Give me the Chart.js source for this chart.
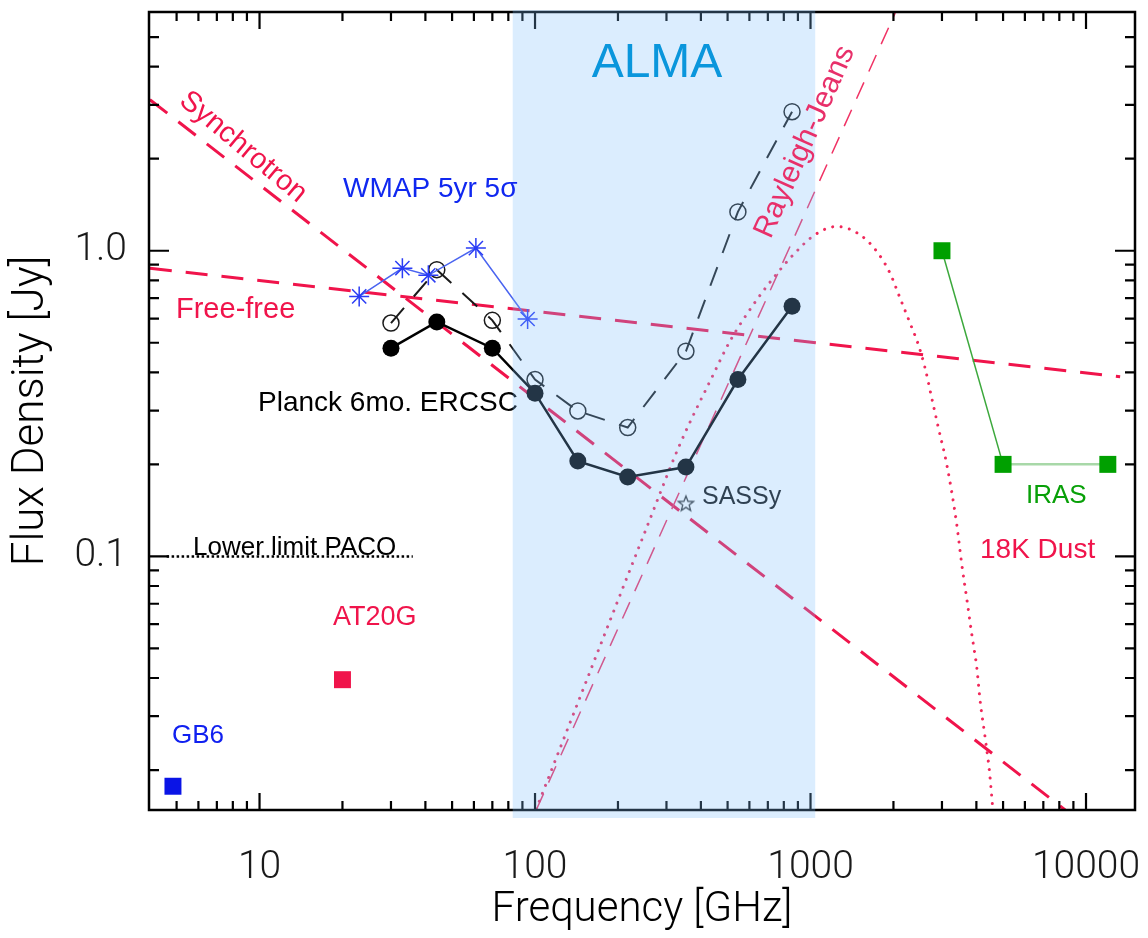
<!DOCTYPE html>
<html><head><meta charset="utf-8">
<script src="https://cdn.jsdelivr.net/npm/chart.js@4/dist/chart.umd.min.js"></script>
<style>html,body{margin:0;padding:0;background:#fff}#wrap{width:1148px;height:938px}</style>
</head><body><div id="wrap"><canvas id="c" width="1148" height="938"></canvas></div>
<script>
// ---- data ----
const planckFreq = [30, 44, 70, 100, 143, 217, 353, 545, 857];
const planckFlux = [0.48, 0.585, 0.48, 0.342, 0.205, 0.182, 0.196, 0.379, 0.658];
const planckOpenFlux = [0.58, 0.867, 0.592, 0.379, 0.299, 0.264, 0.469, 1.34, 2.85];
const wmapFreq = [23, 33, 41, 61, 94];
const wmapFlux = [0.709, 0.877, 0.831, 1.02, 0.598];
const sassyFreq = [353];
const sassyFlux = [0.149];
const at20gFreq = [20];
const at20gFlux = [0.0395];
const gb6Freq = [4.85];
const gb6Flux = [0.0177];
const irasFreq = [3000, 5000, 12000];
const irasFlux = [1.0, 0.2, 0.2];
const pacoFreq = [4.6, 36];
const pacoFlux = [0.1, 0.1];
const synchFreq = [4.0, 8400];
const synchFlux = [3.12, 0.0148];
const freeFreq = [4.0, 13300];
const freeFlux = [0.876, 0.387];
const rjFreq = [101, 2030];
const rjFlux = [0.0148, 6.0];
const dustFreq = [101, 254, 336, 444, 510, 620, 733, 866, 1038, 1245, 1512, 1739, 1943, 2113, 2297, 2462, 2604, 2754, 2910, 3122, 3394, 3538, 3707, 3847, 4012, 4125, 4299, 4457, 4586];
const dustFlux = [0.0149, 0.124, 0.233, 0.394, 0.506, 0.666, 0.814, 0.970, 1.128, 1.200, 1.128, 0.995, 0.845, 0.700, 0.580, 0.493, 0.414, 0.330, 0.264, 0.200, 0.1275, 0.0945, 0.0708, 0.0558, 0.0434, 0.0338, 0.0257, 0.0200, 0.0150];
const almaRange = [83, 1040];
const xTickValues = [10, 100, 1000, 10000];
const xTickLabels = ['10', '100', '1000', '10000'];
const yTickValues = [0.1, 1];
const yTickLabels = ['0.1', '1.0'];
const xRange = [3.97, 15060];
const yRange = [0.0148, 6.04];

const pts = (xs, ys) => xs.map((v, i) => ({x: v, y: ys[i]}));

// small open 5-point star marker
const starImg = document.createElement('canvas');
starImg.width = 20; starImg.height = 20;
(function(){
  const g = starImg.getContext('2d');
  g.strokeStyle = '#333'; g.lineWidth = 1.3;
  g.beginPath();
  for (let i = 0; i < 10; i++) {
    const r = i % 2 === 0 ? 8 : 3.4;
    const a = -Math.PI / 2 + i * Math.PI / 5;
    const px = 10 + r * Math.cos(a), py = 10.5 + r * Math.sin(a);
    if (i === 0) g.moveTo(px, py); else g.lineTo(px, py);
  }
  g.closePath(); g.stroke();
})();

const RED = '#F0144B';
const FONT = '"Liberation Sans", Arial, sans-serif';
const AXFONT = 'Roboto, "Liberation Sans", Arial, sans-serif';

const overlay = {
  id: 'overlay',
  afterDraw(chart) {
    const {ctx, chartArea: a, scales: {x, y}} = chart;
    ctx.save();
    // frame
    ctx.strokeStyle = '#000'; ctx.lineWidth = 2.5;
    ctx.strokeRect(a.left, a.top, a.right - a.left, a.bottom - a.top);
    // inward ticks
    ctx.lineWidth = 2.2;
    ctx.beginPath();
    const minorX = [], minorY = [];
    for (let d = 1; d <= 10000; d *= 10) for (let m = 2; m <= 9; m++) minorX.push(d * m);
    for (let d = 0.01; d <= 1.01; d *= 10) for (let m = 2; m <= 9; m++) minorY.push(d * m);
    const xt = xTickValues.map(v => [v, 17]).concat(minorX.map(v => [v, 9]));
    const yt = yTickValues.map(v => [v, 20]).concat(minorY.map(v => [v, 10]));
    for (const [v, len] of xt) {
      const px = x.getPixelForValue(v);
      if (px < a.left + 2 || px > a.right - 2) continue;
      ctx.moveTo(px, a.bottom); ctx.lineTo(px, a.bottom - len);
      ctx.moveTo(px, a.top); ctx.lineTo(px, a.top + len);
    }
    for (const [v, len] of yt) {
      const py = y.getPixelForValue(v);
      if (py < a.top + 2 || py > a.bottom - 2) continue;
      ctx.moveTo(a.left, py); ctx.lineTo(a.left + len, py);
      ctx.moveTo(a.right, py); ctx.lineTo(a.right - len, py);
    }
    ctx.stroke();

    // labels under the band
    ctx.textBaseline = 'alphabetic'; ctx.textAlign = 'left';
    ctx.fillStyle = '#000'; ctx.font = '28px ' + FONT;
    ctx.fillText('Planck 6mo. ERCSC', 258, 411);
    ctx.fillStyle = '#111'; ctx.font = '25px ' + FONT;
    ctx.fillText('SASSy', 702, 504);

    // ALMA band (translucent overlay)
    const bl = x.getPixelForValue(almaRange[0]), br = x.getPixelForValue(almaRange[1]);
    ctx.fillStyle = 'rgba(125,190,250,0.28)';
    ctx.fillRect(bl, a.top - 2, br - bl, a.bottom - a.top + 10);

    // labels on top
    ctx.fillStyle = '#0A96DC'; ctx.font = '48px ' + FONT; ctx.textAlign = 'center';
    ctx.fillText('ALMA', 657, 77);
    ctx.textAlign = 'left';
    ctx.fillStyle = '#1028F0'; ctx.font = '28px ' + FONT;
    ctx.fillText('WMAP 5yr 5σ', 343, 197);
    ctx.fillStyle = RED; ctx.font = '29px ' + FONT;
    ctx.fillText('Free-free', 176, 318);
    ctx.font = '28px ' + FONT;
    ctx.fillText('18K Dust', 980, 558);
    ctx.font = '27px ' + FONT;
    ctx.fillText('AT20G', 333, 625);
    ctx.fillStyle = '#1020F0'; ctx.font = '26px ' + FONT;
    ctx.fillText('GB6', 172, 743);
    ctx.fillStyle = '#08A008'; ctx.font = '26px ' + FONT;
    ctx.fillText('IRAS', 1026, 503);
    ctx.fillStyle = '#000'; ctx.font = '26px ' + FONT;
    ctx.fillText('Lower limit PACO', 193, 555);
    // rotated labels
    ctx.textAlign = 'center'; ctx.textBaseline = 'middle';
    ctx.save();
    ctx.translate(243, 147); ctx.rotate(40 * Math.PI / 180);
    ctx.fillStyle = RED; ctx.font = '29px ' + FONT;
    ctx.fillText('Synchrotron', 0, 0);
    ctx.restore();
    ctx.save();
    ctx.translate(805, 142); ctx.rotate(-66 * Math.PI / 180);
    ctx.fillStyle = '#E8306A'; ctx.font = '30px ' + FONT;
    ctx.fillText('Rayleigh-Jeans', 0, 0);
    ctx.restore();
    ctx.restore();
  }
};

new Chart(document.getElementById('c'), {
  type: 'line',
  data: {
    datasets: [
      {label: 'GB6', data: pts(gb6Freq, gb6Flux), showLine: false, pointStyle: 'rect', pointRadius: 12,
       pointBackgroundColor: '#0A14E6', pointBorderColor: '#0A14E6', pointBorderWidth: 0},
      {label: 'AT20G', data: pts(at20gFreq, at20gFlux), showLine: false, pointStyle: 'rect', pointRadius: 12,
       pointBackgroundColor: RED, pointBorderColor: RED, pointBorderWidth: 0},
      {label: 'IRAS', data: pts(irasFreq, irasFlux), pointStyle: 'rect', pointRadius: 12,
       pointBackgroundColor: '#00A000', pointBorderColor: '#00A000', pointBorderWidth: 0,
       borderColor: '#3CA83C', borderWidth: 1.5,
       segment: {borderColor: c => c.p0DataIndex === 0 ? '#3CA83C' : '#A8D8A8', borderWidth: c => c.p0DataIndex === 0 ? 1.5 : 2.5}},
      {label: 'SASSy', data: pts(sassyFreq, sassyFlux), showLine: false, pointStyle: starImg, pointRadius: 8},
      {label: 'WMAP', data: pts(wmapFreq, wmapFlux), borderColor: '#4A64F0', borderWidth: 1.5,
       pointStyle: 'star', pointRadius: 10, pointBorderColor: '#2A3CF5', pointBorderWidth: 1.5, pointBackgroundColor: '#2A3CF5'},
      {label: 'Planck', data: pts(planckFreq, planckFlux), borderColor: '#000', borderWidth: 2.5,
       pointStyle: 'circle', pointRadius: 8.5, pointBackgroundColor: '#000', pointBorderColor: '#000', pointBorderWidth: 0},
      {label: 'Planck open', data: pts(planckFreq, planckOpenFlux), borderColor: '#1a1a1a', borderWidth: 2, borderDash: [20, 15],
       pointStyle: 'circle', pointRadius: 8, pointBackgroundColor: 'rgba(0,0,0,0)', pointBorderColor: '#1a1a1a', pointBorderWidth: 1.5},
      {label: 'PACO', data: pts(pacoFreq, pacoFlux), borderColor: '#000', borderWidth: 2.5, borderDash: [2.5, 2.5], pointRadius: 0},
      {label: 'Dust', data: pts(dustFreq, dustFlux), borderColor: '#F0285A', borderWidth: 3, borderDash: [0.001, 8.5],
       borderCapStyle: 'round', pointRadius: 0, cubicInterpolationMode: 'monotone'},
      {label: 'RJ', data: pts(rjFreq, rjFlux), borderColor: '#F03264', borderWidth: 1.5, borderDash: [18, 12], pointRadius: 0},
      {label: 'Free-free', data: pts(freeFreq, freeFlux), borderColor: RED, borderWidth: 3, borderDash: [22, 14], pointRadius: 0},
      {label: 'Synchrotron', data: pts(synchFreq, synchFlux), borderColor: RED, borderWidth: 3, borderDash: [22, 14], pointRadius: 0}
    ]
  },
  options: {
    responsive: false,
    animation: false,
    devicePixelRatio: 1,
    layout: {padding: {left: 0, top: 10, right: 13, bottom: 0}},
    plugins: {legend: {display: false}, tooltip: {enabled: false}},
    elements: {line: {tension: 0, fill: false}},
    scales: {
      x: {
        type: 'logarithmic', min: xRange[0], max: xRange[1],
        grid: {display: false}, border: {display: false},
        afterBuildTicks: s => { s.ticks = xTickValues.map(v => ({value: v})); },
        afterFit: s => { s.height = 128; s.paddingLeft = 0; s.paddingRight = 0; },
        ticks: {autoSkip: false, maxRotation: 0, padding: 27, color: '#1a1a1a',
          font: {family: AXFONT, size: 39, weight: '300'},
          callback: v => { const i = xTickValues.indexOf(v); return i >= 0 ? xTickLabels[i] : ''; }},
        title: {display: true, text: 'Frequency [GHz]', color: '#000', font: {family: AXFONT, size: 42, weight: '300'}, padding: {top: 0, bottom: 2}}
      },
      y: {
        type: 'logarithmic', min: yRange[0], max: yRange[1],
        grid: {display: false}, border: {display: false},
        afterBuildTicks: s => { s.ticks = yTickValues.map(v => ({value: v})); },
        afterFit: s => { s.width = 149; s.paddingTop = 0; s.paddingBottom = 0; },
        ticks: {autoSkip: false, padding: 14, color: '#1a1a1a',
          font: {family: AXFONT, size: 39, weight: '300'},
          callback: v => { const i = yTickValues.indexOf(v); return i >= 0 ? yTickLabels[i] : ''; }},
        title: {display: true, text: 'Flux Density [Jy]', color: '#000', font: {family: AXFONT, size: 44, weight: '300'}, padding: {top: 6, bottom: 0}}
      }
    }
  },
  plugins: [overlay]
});
</script>
</body></html>
